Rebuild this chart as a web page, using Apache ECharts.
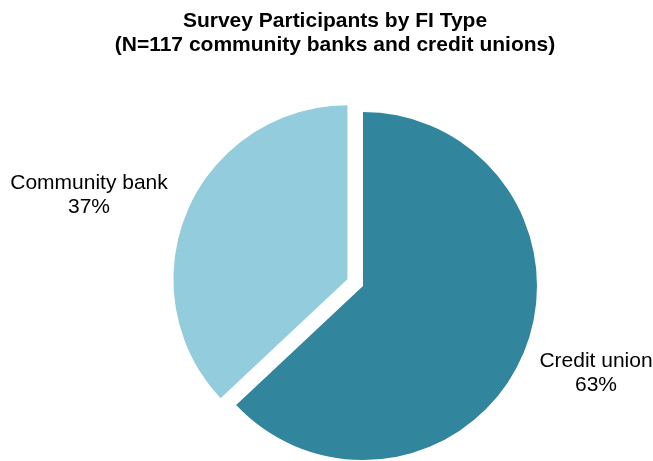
<!DOCTYPE html>
<html>
<head>
<meta charset="utf-8">
<script src="https://cdn.jsdelivr.net/npm/echarts@6/dist/echarts.min.js"></script>
<style>
html,body{margin:0;padding:0;background:#fff;}
#chart{width:653px;height:461px;}
</style>
</head>
<body>
<div id="chart"></div>
<script>
// Survey participants split by institution type (percent of N=117)
const categories = ['Credit union', 'Community bank'];
const shares = [63, 37];
const colors = ['#31859C', '#93CDDD'];
const labelAnchors = [[596, 373], [89, 195]];

const total = shares.reduce((s, v) => s + v, 0);
const labelFont = '21px "Liberation Sans", Arial, sans-serif';

const chart = echarts.init(document.getElementById('chart'), null, {renderer: 'canvas'});
chart.setOption({
  animation: false,
  title: {
    text: 'Survey Participants by FI Type\n(N=117 community banks and credit unions)',
    left: 330,
    top: 4,
    textAlign: 'center',
    textStyle: {
      fontFamily: 'Liberation Sans, Arial, sans-serif',
      fontWeight: 'bold',
      fontSize: 21,
      lineHeight: 24,
      color: '#000'
    }
  },
  // category name + share, placed beside each slice
  graphic: categories.map((c, i) => ({
    type: 'text',
    x: labelAnchors[i][0],
    y: labelAnchors[i][1],
    style: {
      text: c + '\n' + Math.round(shares[i] / total * 100) + '%',
      font: labelFont,
      lineHeight: 24,
      fill: '#000',
      align: 'center',
      verticalAlign: 'middle'
    }
  })),
  series: [{
    type: 'pie',
    center: [363, 286],
    radius: 174,
    startAngle: 90,
    clockwise: true,
    selectedMode: 'single',
    selectedOffset: 17,
    label: {show: false},
    labelLine: {show: false},
    emphasis: {disabled: true},
    data: categories.map((c, i) => ({
      name: c,
      value: shares[i],
      selected: i === 1,
      itemStyle: {color: colors[i]}
    }))
  }]
});
</script>
</body>
</html>
